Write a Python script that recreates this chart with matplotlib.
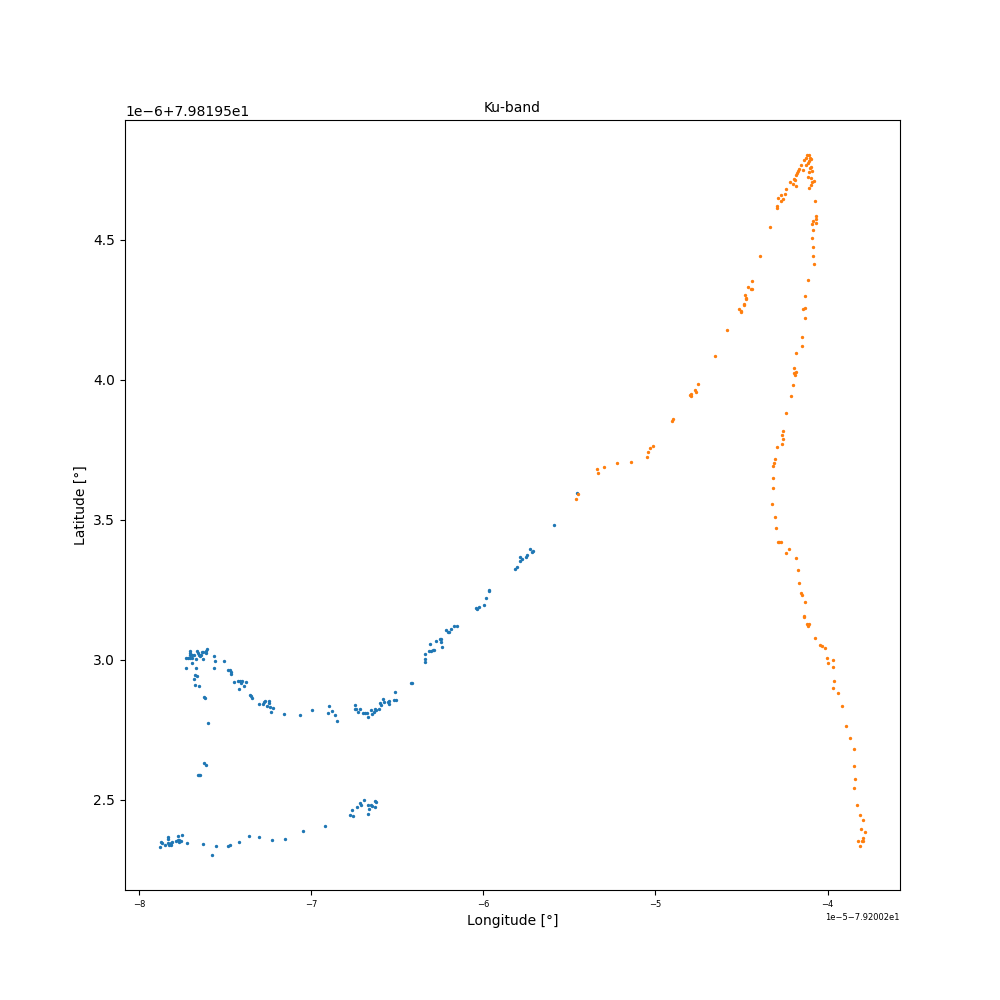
import matplotlib
matplotlib.use("Agg")
import matplotlib.pyplot as plt
import numpy as np

# --- Offsets used by the axis formatter ---
LON0 = -79.2002   # deg, x in units of 1e-5
LAT0 = 79.8195    # deg, y in units of 1e-6

# --- First pass (blue), lon in 1e-5 deg, lat in 1e-6 deg relative to offsets ---
lon_a = [-7.725, -7.714, -7.702, -7.691, -7.704, -7.704, -7.702, -7.689, -7.679, -7.691,
         -7.667, -7.663, -7.656, -7.650, -7.644, -7.638, -7.632, -7.627, -7.613, -7.609,
         -7.603, -7.627, -7.725, -7.667, -7.679, -7.673, -7.661, -7.673, -7.650, -7.623,
         -7.615, -7.598, -7.563, -7.557, -7.563, -7.505, -7.482, -7.470, -7.464, -7.464,
         -7.447, -7.424, -7.412, -7.400, -7.406, -7.389, -7.418, -7.377, -7.354, -7.348,
         -7.342, -7.302, -7.278, -7.273, -7.267, -7.244, -7.244, -7.255, -7.238, -7.220,
         -7.232, -7.157, -7.064, -6.994, -6.895, -6.901, -6.878, -6.861, -6.849, -6.744,
         -6.744, -6.739, -6.715, -6.727, -6.698, -6.686, -6.675, -6.669, -6.652, -6.646,
         -6.634, -6.628, -6.623, -6.605, -6.599, -6.594, -6.582, -6.576, -6.547, -6.547,
         -6.553, -6.512, -6.518, -6.506,
         -7.621, -7.609, -7.656, -7.644, -7.650,
         -7.876, -7.870, -7.865, -7.847, -7.830, -7.830, -7.830, -7.824, -7.812, -7.812,
         -7.807, -7.783, -7.772, -7.772, -7.766, -7.766, -7.754, -7.749, -7.720, -7.627,
         -7.574, -7.551, -7.482, -7.470, -7.418, -7.360, -7.302, -7.226, -7.151, -7.046,
         -6.919, -6.773, -6.756, -6.762, -6.733, -6.715, -6.710, -6.692, -6.669, -6.669,
         -6.663, -6.652, -6.646, -6.628, -6.623, -6.628,
         -6.419, -6.412, -6.338, -6.338, -6.338, -6.315, -6.309, -6.301, -6.292, -6.286,
         -6.274, -6.251, -6.245, -6.245, -6.239, -6.216, -6.205, -6.199, -6.187, -6.170,
         -6.152, -6.042, -6.036, -6.025, -5.996, -5.984, -5.967, -5.967, -5.816, -5.804,
         -5.787, -5.787, -5.775, -5.752, -5.746, -5.729, -5.717, -5.711, -5.590, -5.458]
lat_a = [3.006, 3.006, 3.006, 3.006, 3.030, 3.024, 3.018, 3.018, 3.018, 2.988,
         3.002, 3.031, 3.024, 3.017, 3.012, 3.018, 3.026, 3.027, 3.030, 3.022,
         3.038, 3.002, 2.970, 2.970, 2.931, 2.945, 2.942, 2.910, 2.906, 2.867,
         2.863, 2.774, 3.013, 2.995, 2.970, 2.995, 2.963, 2.963, 2.956, 2.949,
         2.920, 2.924, 2.924, 2.924, 2.917, 2.906, 2.895, 2.920, 2.874, 2.870,
         2.863, 2.842, 2.842, 2.849, 2.852, 2.852, 2.845, 2.835, 2.831, 2.828,
         2.813, 2.806, 2.803, 2.820, 2.835, 2.810, 2.817, 2.803, 2.781, 2.838,
         2.824, 2.824, 2.824, 2.813, 2.810, 2.810, 2.810, 2.795, 2.820, 2.806,
         2.813, 2.824, 2.820, 2.824, 2.845, 2.838, 2.860, 2.849, 2.852, 2.842,
         2.849, 2.885, 2.856, 2.856,
         2.631, 2.624, 2.586, 2.586, 2.589,
         2.331, 2.349, 2.345, 2.338, 2.367, 2.360, 2.345, 2.338, 2.338, 2.345,
         2.349, 2.353, 2.356, 2.370, 2.349, 2.356, 2.353, 2.374, 2.345, 2.342,
         2.302, 2.335, 2.335, 2.338, 2.349, 2.370, 2.367, 2.356, 2.360, 2.388,
         2.406, 2.445, 2.442, 2.463, 2.474, 2.488, 2.481, 2.499, 2.481, 2.449,
         2.467, 2.481, 2.477, 2.495, 2.492, 2.474,
         2.917, 2.917, 3.020, 3.003, 2.992, 3.031, 3.056, 3.031, 3.034, 3.035,
         3.067, 3.074, 3.063, 3.074, 3.045, 3.106, 3.099, 3.099, 3.110, 3.120,
         3.120, 3.185, 3.181, 3.188, 3.195, 3.220, 3.249, 3.245, 3.324, 3.331,
         3.352, 3.367, 3.360, 3.367, 3.374, 3.395, 3.385, 3.388, 3.481, 3.595]

# --- Second pass (orange) ---
lon_b = [-5.450, -5.462, -5.340, -5.334, -5.299, -5.224, -5.143, -5.050, -5.044, -5.032,
         -5.015, -4.905, -4.899, -4.800, -4.794, -4.794, -4.771, -4.765, -4.754, -4.655,
         -4.585, -4.516, -4.504, -4.504, -4.487, -4.487, -4.475, -4.475, -4.481, -4.464,
         -4.446, -4.440, -4.440, -4.394, -4.336, -4.295, -4.295, -4.289,
         -4.272, -4.272, -4.260, -4.249, -4.243, -4.220, -4.202, -4.196, -4.185, -4.190,
         -4.185, -4.179, -4.173, -4.168, -4.156, -4.144, -4.138, -4.127, -4.121, -4.109,
         -4.103, -4.115, -4.125, -4.098, -4.109, -4.103, -4.098, -4.109, -4.092, -4.115,
         -4.098, -4.080, -4.092, -4.098, -4.109, -4.075, -4.069, -4.069, -4.086, -4.069,
         -4.092, -4.086, -4.092, -4.086, -4.086, -4.080, -4.115,
         -4.133, -4.144, -4.133, -4.133, -4.150, -4.150, -4.185, -4.196, -4.185, -4.196,
         -4.191, -4.202, -4.214, -4.243, -4.260, -4.266, -4.260, -4.266, -4.295, -4.307,
         -4.313, -4.318, -4.318, -4.318, -4.324, -4.307, -4.301, -4.289, -4.284, -4.272,
         -4.226, -4.243, -4.185, -4.173,
         -4.167, -4.156, -4.150, -4.133, -4.138, -4.138, -4.121, -4.109, -4.115, -4.075,
         -4.046, -4.034, -4.017, -4.005, -3.999, -3.970, -3.970, -3.964, -3.970, -3.941,
         -3.918, -3.895, -3.871, -3.848, -3.848, -3.842, -3.848, -3.831, -3.813, -3.796,
         -3.808, -3.784, -3.796, -3.802, -3.796, -3.825, -3.813]
lat_b = [3.592, 3.574, 3.681, 3.667, 3.688, 3.702, 3.706, 3.724, 3.742, 3.756,
         3.763, 3.852, 3.860, 3.945, 3.942, 3.949, 3.963, 3.956, 3.985, 4.085,
         4.177, 4.252, 4.245, 4.242, 4.267, 4.270, 4.288, 4.292, 4.302, 4.331,
         4.324, 4.324, 4.352, 4.442, 4.545, 4.613, 4.620, 4.649,
         4.659, 4.638, 4.645, 4.663, 4.681, 4.706, 4.699, 4.717, 4.692, 4.713,
         4.731, 4.738, 4.745, 4.752, 4.767, 4.749, 4.785, 4.792, 4.802, 4.802,
         4.792, 4.774, 4.767, 4.788, 4.781, 4.756, 4.760, 4.742, 4.745, 4.724,
         4.720, 4.710, 4.706, 4.695, 4.685, 4.638, 4.585, 4.574, 4.567, 4.560,
         4.556, 4.535, 4.506, 4.474, 4.442, 4.413, 4.356,
         4.299, 4.252, 4.256, 4.220, 4.152, 4.120, 4.095, 4.042, 4.027, 4.024,
         4.017, 3.981, 3.942, 3.881, 3.817, 3.802, 3.788, 3.770, 3.760, 3.717,
         3.702, 3.692, 3.649, 3.613, 3.556, 3.510, 3.470, 3.420, 3.420, 3.420,
         3.395, 3.381, 3.363, 3.320,
         3.274, 3.238, 3.231, 3.206, 3.156, 3.152, 3.127, 3.127, 3.120, 3.077,
         3.052, 3.049, 3.042, 3.006, 2.988, 2.999, 2.974, 2.924, 2.899, 2.881,
         2.835, 2.763, 2.720, 2.681, 2.620, 2.574, 2.542, 2.481, 2.445, 2.427,
         2.395, 2.385, 2.363, 2.352, 2.352, 2.352, 2.334]

lon_a = LON0 + np.array(lon_a) * 1e-5
lat_a = LAT0 + np.array(lat_a) * 1e-6
lon_b = LON0 + np.array(lon_b) * 1e-5
lat_b = LAT0 + np.array(lat_b) * 1e-6

# --- Plot ---
fig, ax = plt.subplots(figsize=(10, 10), dpi=100)
ax.scatter(lon_a, lat_a, s=2)
ax.scatter(lon_b, lat_b, s=2)

ax.ticklabel_format(axis="x", useOffset=LON0)
ax.ticklabel_format(axis="y", useOffset=LAT0)
ax.tick_params(axis="x", labelsize=6)
ax.xaxis.get_offset_text().set_fontsize(6)

ax.set_title("Ku-band", fontsize=10)
ax.set_xlabel("Longitude [°]")
ax.set_ylabel("Latitude [°]")

fig.savefig("out.png")
